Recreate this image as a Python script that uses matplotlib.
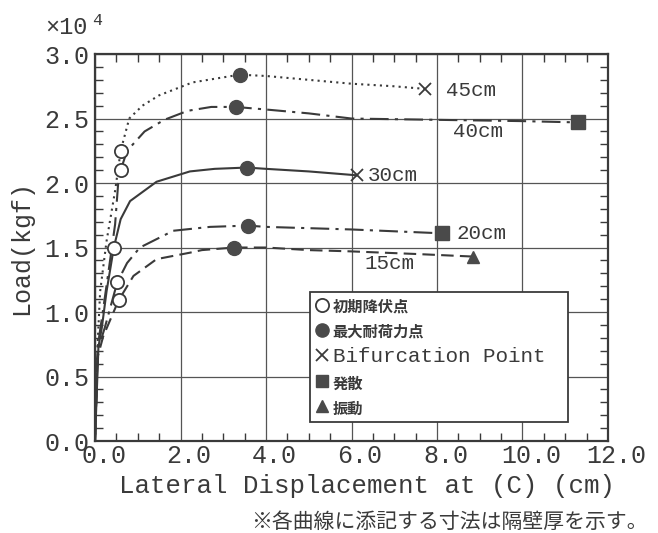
import numpy as np
import matplotlib
matplotlib.use("Agg")
import matplotlib.pyplot as plt
from matplotlib.lines import Line2D
from matplotlib.ticker import MultipleLocator, FormatStrFormatter
from matplotlib.transforms import ScaledTranslation

MONO = 'Liberation Mono'
JP = 'Noto Sans CJK JP'
INK = '#3a3a3a'

# lateral displacement (cm) / load (x10^4 kgf)
x45 = [0, 0.06, 0.12, 0.27, 0.47, 0.60, 0.80, 1.11, 1.50, 2.28, 2.83, 3.38, 4.0, 5.0, 6.0, 7.0, 7.71]
y45 = [0, 0.75, 1.16, 1.55, 1.94, 2.25, 2.50, 2.60, 2.68, 2.78, 2.81, 2.84, 2.83, 2.80, 2.77, 2.75, 2.73]

x40 = [0, 0.07, 0.16, 0.31, 0.47, 0.54, 0.60, 0.75, 1.16, 1.62, 2.17, 2.72, 3.29, 4.0, 5.0, 6.0, 8.0, 10.0, 11.29]
y40 = [0, 0.75, 0.95, 1.30, 1.68, 1.99, 2.10, 2.25, 2.40, 2.49, 2.56, 2.59, 2.59, 2.57, 2.54, 2.50, 2.49, 2.48, 2.47]

x30 = [0, 0.08, 0.16, 0.27, 0.44, 0.60, 0.82, 1.44, 2.22, 2.80, 3.55, 4.0, 5.0, 6.12]
y30 = [0, 0.73, 0.88, 1.16, 1.50, 1.72, 1.86, 2.01, 2.09, 2.11, 2.12, 2.11, 2.09, 2.06]

x20 = [0, 0.06, 0.23, 0.52, 0.75, 1.05, 1.83, 2.69, 3.57, 4.0, 6.0, 8.12]
y20 = [0, 0.70, 0.88, 1.23, 1.38, 1.50, 1.63, 1.66, 1.67, 1.66, 1.64, 1.61]

x15 = [0, 0.06, 0.19, 0.55, 0.90, 1.44, 2.22, 2.50, 3.25, 4.0, 5.0, 6.0, 7.5, 8.84]
y15 = [0, 0.65, 0.81, 1.09, 1.28, 1.41, 1.46, 1.48, 1.50, 1.50, 1.48, 1.47, 1.45, 1.43]

# 初期降伏点 (open circles)
yield_x = [0.60, 0.60, 0.44, 0.52, 0.55]
yield_y = [2.25, 2.10, 1.50, 1.23, 1.09]
# 最大耐荷力点 (filled circles)
max_x = [3.38, 3.29, 3.55, 3.57, 3.25]
max_y = [2.84, 2.59, 2.12, 1.67, 1.50]
# Bifurcation Point
bif_x = [7.71, 6.12]
bif_y = [2.73, 2.06]
# 発散
div_x = [11.29, 8.12]
div_y = [2.47, 1.61]
# 振動
osc_x = [8.84]
osc_y = [1.43]

curve_labels = ['45cm', '40cm', '30cm', '20cm', '15cm']
label_x = [8.22, 8.37, 6.39, 8.45, 6.31]
label_y = [2.72, 2.40, 2.06, 1.61, 1.38]

fig = plt.figure(figsize=(6.58, 5.33), dpi=100)
ax = fig.add_axes([0.1444, 0.1726, 0.7796, 0.726])

lw = 1.5
ax.plot(x45, y45, color=INK, lw=lw, linestyle=(0, (1, 2)))
ax.plot(x40, y40, color=INK, lw=lw, linestyle=(0, (9, 3, 1.5, 3)))
ax.plot(x30, y30, color=INK, lw=lw, linestyle='-')
ax.plot(x20, y20, color=INK, lw=lw, linestyle=(0, (9, 3, 1.5, 3)))
ax.plot(x15, y15, color=INK, lw=lw, linestyle=(0, (6, 3)))

ax.plot(yield_x, yield_y, 'o', ms=9.5, mfc='white', mec=INK, mew=1.3, ls='none')
ax.plot(max_x, max_y, 'o', ms=10, color='#4a4a4a', ls='none')
ax.plot(bif_x, bif_y, 'x', ms=8, mew=1.3, color=INK, ls='none')
ax.plot(div_x, div_y, 's', ms=9.5, color='#4a4a4a', ls='none')
ax.plot(osc_x, osc_y, '^', ms=9, color='#4a4a4a', ls='none')

for t, lx, ly in zip(curve_labels, label_x, label_y):
    ax.text(lx, ly, t, fontsize=15, family=MONO, color=INK, ha='left', va='center')

ax.set_xlim(0, 12)
ax.set_ylim(0, 3.0)
ax.set_xticks(np.arange(0, 12.1, 2))
ax.xaxis.set_minor_locator(MultipleLocator(0.5))
ax.yaxis.set_major_locator(MultipleLocator(0.5))
ax.yaxis.set_minor_locator(MultipleLocator(0.1))
ax.xaxis.set_major_formatter(FormatStrFormatter('%.1f'))
ax.yaxis.set_major_formatter(FormatStrFormatter('%.1f'))
ax.tick_params(which='both', direction='in', top=True, right=True, colors=INK)
ax.tick_params(which='major', length=0, labelsize=18)
ax.tick_params(axis='y', which='major', pad=4)
ax.tick_params(axis='x', which='major', pad=2)
ax.tick_params(which='minor', length=6, width=1.0)
shift = ScaledTranslation(8.5 / 100, 0, fig.dpi_scale_trans)
for lab in ax.get_xticklabels():
    lab.set_family(MONO)
    lab.set_transform(lab.get_transform() + shift)
for lab in ax.get_yticklabels():
    lab.set_family(MONO)
ax.grid(True, which='major', color='#555555', lw=0.9)
for s in ax.spines.values():
    s.set_color(INK)
    s.set_linewidth(1.6)

ax.set_xlabel('Lateral Displacement at (C) (cm)', fontsize=18.5, family=MONO, color=INK, labelpad=4)
ax.xaxis.set_label_coords(0.53, -0.085)
ax.set_ylabel('Load(kgf)', fontsize=18, family=MONO, color=INK, labelpad=8)

fig.text(45 / 658, 1 - 34 / 533, '×10', fontsize=17, family=MONO, color=INK, va='baseline')
fig.text(92 / 658, 1 - 25 / 533, '4', fontsize=12, family=MONO, color=INK, va='baseline')

handles = [
    Line2D([], [], marker='o', ls='none', ms=9.5, mfc='white', mec=INK, mew=1.3),
    Line2D([], [], marker='o', ls='none', ms=9.5, color='#4a4a4a'),
    Line2D([], [], marker='x', ls='none', ms=8, mew=1.3, color=INK),
    Line2D([], [], marker='s', ls='none', ms=9, color='#4a4a4a'),
    Line2D([], [], marker='^', ls='none', ms=9, color='#4a4a4a'),
]
labels = ['初期降伏点', '最大耐荷力点', 'Bifurcation Point', '発散', '振動']
leg = ax.legend(handles, labels, loc='upper left', bbox_to_anchor=(0.419, 0.062, 0.503, 0.323),
                mode='expand', prop={'family': MONO, 'size': 15}, handlelength=0.7,
                handletextpad=0.15, borderpad=0.25, labelspacing=0.36, borderaxespad=0,
                fancybox=False, framealpha=1, edgecolor=INK)
leg.get_frame().set_linewidth(1.3)
for i, txt in enumerate(leg.get_texts()):
    txt.set_color(INK)
    if i != 2:
        txt.set_family(JP)
        txt.set_fontsize(11)
        txt.set_fontweight('bold')

fig.text(648 / 658, 1 - 522 / 533, '※各曲線に添記する寸法は隔壁厚を示す。', fontsize=15,
         family=JP, color=INK, ha='right', va='center')

fig.savefig('out.png', dpi=100)
